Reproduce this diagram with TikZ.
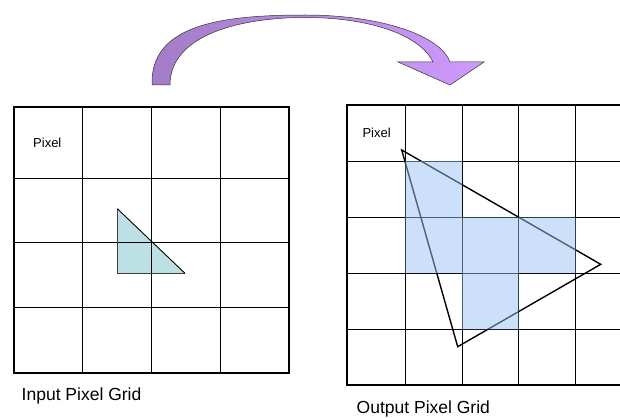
\documentclass[tikz,border=0pt]{standalone}
\usepackage{fontspec}
\setmainfont{Liberation Sans}
\definecolor{tealfill}{RGB}{188,224,227}
\definecolor{bluecell}{RGB}{153,193,245}
\definecolor{arrowL}{RGB}{163,124,198}
\definecolor{arrowR}{RGB}{206,154,255}
\tikzset{
  thin grid/.style={black, line width=0.8pt},
  outer frame/.style={black, line width=1.7pt},
  tri line/.style={black, line width=1.4pt, line join=miter},
  small label/.style={font=\fontsize{13}{15}\selectfont, inner sep=0pt, anchor=west},
  caption label/.style={font=\fontsize{17.5}{20}\selectfont, inner sep=0pt, anchor=west},
}
\begin{document}
\begin{tikzpicture}[x=1pt,y=-1pt]
\useasboundingbox (0,0) rectangle (620,417);
\clip (0,0) rectangle (620,417);

% ---------- curved arrow ----------
\shadedraw[left color=arrowL, right color=arrowR, draw=black!80, line width=0.5pt]
  (152,85) .. controls (150,25) and (220,15) .. (305,15)
           .. controls (380,15) and (440,35) .. (450,62)
  -- (484,62) -- (450,85) -- (398,62) -- (433,62)
           .. controls (420,35) and (370,17.5) .. (305,17.5)
           .. controls (240,17.5) and (170,35) .. (170,85)
  -- cycle;

% ---------- left (input) grid ----------
\fill[tealfill] (117.3,208.7) -- (117.3,273.3) -- (185,273.3) -- cycle;
\foreach \x in {82.7,151.7,220.3} \draw[thin grid] (\x,107.3) -- (\x,372.7);
\foreach \y in {178,242.7,307.3} \draw[thin grid] (14,\y) -- (289.3,\y);
\draw[outer frame] (14,107.3) rectangle (289.3,372.7);
\draw[black!75, line width=0.9pt] (117.3,208.7) -- (117.3,273.3) -- (185,273.3);
\draw[black, line width=0.9pt] (117.3,208.7) -- (185,273.3);
\node[small label] (pixA) at (33,143) {Pixel};
\node[caption label] (capA) at (21.5,395.5) {Input Pixel Grid};

% ---------- right (output) grid ----------
\foreach \x in {405.3,462,518.7,575.7} \draw[thin grid] (\x,105) -- (\x,385);
\foreach \y in {161,217.3,273,329.3} \draw[thin grid] (346.7,\y) -- (625,\y);
\draw[outer frame] (625,105) -- (346.7,105) -- (346.7,385) -- (625,385);
\draw[tri line] (401.7,150) -- (600.7,264.3) -- (457.7,346.7) -- cycle;
\fill[bluecell, fill opacity=0.5]
  (405.3,161) rectangle (462,217.3)
  (405.3,217.3) rectangle (575.7,273)
  (462,273) rectangle (518.7,329.3);
\node[small label] (pixB) at (362.3,133.3) {Pixel};
\node[caption label] (capB) at (356.5,409) {Output Pixel Grid};
\end{tikzpicture}
\end{document}
